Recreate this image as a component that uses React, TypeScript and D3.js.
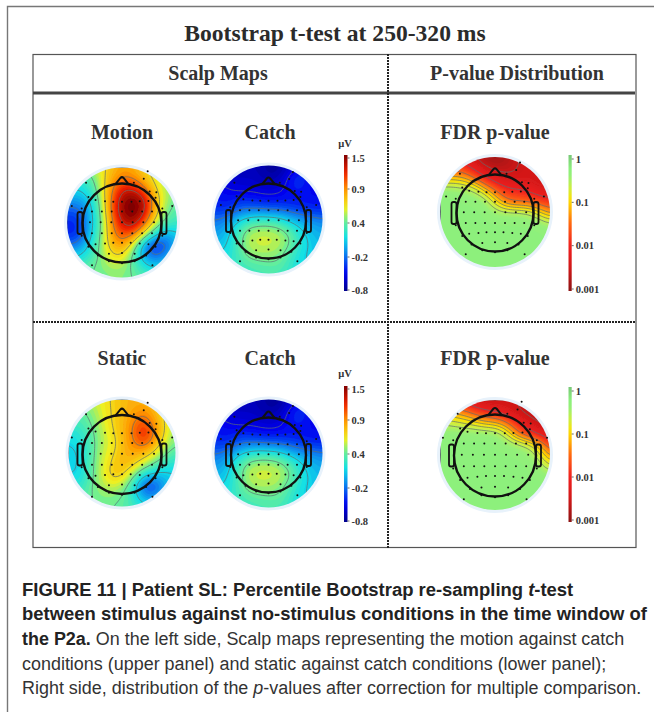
import React, { useMemo } from "react";
import * as d3 from "d3";

const W = 654;
const H = 712;

// electrode positions, as fractions of the head radius (nose up)
const electrodes: [number, number][] = [
  [0.65, -1.31], [0.55, -1.12], [0.3, -1.02], [-0.91, -1.02], [0.87, -0.78], [0.7, -0.8],
  [-0.85, -0.66], [-0.67, -0.58], [-0.43, -0.55], [-0.22, -0.54], [0, -0.54], [0.24, -0.54], [0.45, -0.55], [0.67, -0.56], [0.85, -0.64],
  [-0.76, -0.29], [-0.51, -0.29], [-0.26, -0.29], [0, -0.29], [0.26, -0.29], [0.51, -0.29], [0.76, -0.29],
  [-0.81, -0.02], [-0.54, -0.02], [-0.27, -0.02], [0, -0.02], [0.27, -0.02], [0.54, -0.02], [0.81, -0.02],
  [-0.76, 0.26], [-0.51, 0.26], [-0.26, 0.26], [0, 0.26], [0.26, 0.26], [0.51, 0.26], [0.76, 0.26],
  [-0.67, 0.54], [-0.43, 0.52], [-0.22, 0.5], [0, 0.5], [0.22, 0.5], [0.45, 0.52], [0.67, 0.54], [0.85, 0.6],
  [-0.85, 0.6], [-0.61, 0.82], [-0.33, 0.78], [0, 0.76], [0.32, 0.78], [0.61, 0.82],
  [-0.76, 1.07], [-0.33, 0.97], [0, 1.02], [0.32, 0.97], [0.77, 1.07],
  [-1.27, -0.43], [1.27, -0.43], [-1.02, -0.37], [1.02, -0.37], [-1.02, 0.32], [1.02, 0.32],
];

// scalp values in uV, sampled on an 11 x 11 grid over the disc
const motionValues = [
  [0.4, 0.4, 0.5, 0.62, 0.8, 0.9, 0.85, 0.72, 0.6, 0.5, 0.5],
  [0.2, 0.2, 0.3, 0.58, 0.9, 1.05, 1.0, 0.8, 0.62, 0.5, 0.45],
  [0.1, 0.1, 0.2, 0.55, 1.0, 1.35, 1.35, 1.1, 0.7, 0.5, 0.45],
  [-0.1, -0.1, 0.05, 0.45, 1.1, 1.5, 1.6, 1.4, 0.8, 0.5, 0.35],
  [-0.3, -0.3, 0, 0.4, 1.1, 1.5, 1.6, 1.35, 0.75, 0.4, 0.3],
  [-0.4, -0.4, 0, 0.35, 1.0, 1.35, 1.45, 1.05, 0.55, 0.3, 0.25],
  [-0.4, -0.4, 0.05, 0.4, 0.95, 1.15, 1.05, 0.6, 0.1, -0.1, 0.1],
  [-0.2, -0.15, 0.15, 0.45, 0.85, 0.95, 0.55, -0.2, -0.5, -0.25, 0.05],
  [0.1, 0.1, 0.25, 0.45, 0.68, 0.68, 0.3, -0.1, -0.25, -0.05, 0.1],
  [0.3, 0.3, 0.4, 0.45, 0.5, 0.5, 0.35, 0.2, 0.1, 0.15, 0.2],
  [0.4, 0.4, 0.4, 0.4, 0.45, 0.45, 0.4, 0.35, 0.3, 0.3, 0.3],
];

const catchValues = [
  [-0.7, -0.7, -0.7, -0.65, -0.65, -0.75, -0.75, -0.6, -0.5, -0.5, -0.5],
  [-0.55, -0.55, -0.6, -0.6, -0.65, -0.7, -0.65, -0.4, -0.3, -0.5, -0.5],
  [-0.45, -0.5, -0.55, -0.55, -0.55, -0.6, -0.55, -0.4, -0.4, -0.5, -0.5],
  [-0.4, -0.45, -0.4, -0.4, -0.45, -0.45, -0.45, -0.45, -0.45, -0.45, -0.45],
  [-0.35, -0.4, -0.25, -0.2, -0.2, -0.25, -0.25, -0.3, -0.35, -0.4, -0.4],
  [-0.2, -0.12, 0.08, 0.22, 0.28, 0.28, 0.22, 0.05, -0.05, -0.1, -0.15],
  [-0.1, 0, 0.25, 0.5, 0.55, 0.55, 0.5, 0.35, 0.12, 0, -0.05],
  [0, 0.05, 0.3, 0.55, 0.58, 0.58, 0.55, 0.42, 0.18, 0.05, 0],
  [0.1, 0.12, 0.28, 0.48, 0.52, 0.52, 0.46, 0.3, 0.12, 0.05, 0.05],
  [0.18, 0.18, 0.25, 0.32, 0.35, 0.38, 0.38, 0.22, 0.1, 0.08, 0.05],
  [0.25, 0.25, 0.25, 0.25, 0.28, 0.28, 0.28, 0.22, 0.12, 0.1, 0.1],
];

const staticValues = [
  [0.5, 0.5, 0.55, 0.62, 0.72, 0.82, 0.85, 0.85, 0.8, 0.7, 0.6],
  [0.35, 0.35, 0.45, 0.6, 0.72, 0.8, 0.9, 0.95, 0.82, 0.65, 0.55],
  [0.3, 0.3, 0.4, 0.56, 0.72, 0.82, 1.0, 1.15, 0.92, 0.65, 0.5],
  [0.15, 0.2, 0.35, 0.52, 0.68, 0.82, 1.05, 1.3, 1.0, 0.65, 0.45],
  [0.1, 0.15, 0.32, 0.52, 0.62, 0.8, 1.0, 1.15, 0.88, 0.55, 0.4],
  [0.05, 0.1, 0.32, 0.56, 0.66, 0.85, 0.88, 0.8, 0.62, 0.4, 0.3],
  [0.05, 0.1, 0.35, 0.56, 0.75, 0.85, 0.75, 0.55, 0.35, 0.2, 0.15],
  [0.1, 0.1, 0.35, 0.56, 0.8, 0.75, 0.45, 0.1, 0, 0.05, 0.1],
  [0.2, 0.2, 0.4, 0.52, 0.58, 0.5, 0.2, -0.35, -0.35, 0, 0.1],
  [0.3, 0.3, 0.4, 0.45, 0.45, 0.4, 0.2, -0.1, -0.1, 0.05, 0.1],
  [0.35, 0.35, 0.4, 0.4, 0.4, 0.35, 0.3, 0.2, 0.2, 0.2, 0.2],
];

// log10(p) on the same grid
const pMotion = [
  [-2, -2, -2.2, -2.5, -2.8, -2.9, -2.7, -2.5, -2.4, -2.3, -2.3],
  [-1.6, -1.6, -1.7, -2.1, -2.4, -2.6, -2.6, -2.5, -2.4, -2.4, -2.4],
  [-1, -1, -1, -1.3, -1.9, -2.2, -2.4, -2.4, -2.4, -2.5, -2.5],
  [-0.3, -0.3, -0.4, -0.5, -0.9, -1.5, -1.85, -1.9, -2, -2.3, -2.3],
  [-0.3, -0.3, -0.3, -0.3, -0.35, -0.9, -1.5, -1.6, -1.6, -1.7, -1.9],
  [-0.3, -0.3, -0.3, -0.3, -0.3, -0.4, -0.4, -0.4, -0.5, -0.9, -1.3],
  [-0.3, -0.3, -0.3, -0.3, -0.3, -0.3, -0.3, -0.3, -0.3, -0.3, -0.5],
  [-0.3, -0.3, -0.3, -0.3, -0.3, -0.3, -0.3, -0.3, -0.3, -0.3, -0.3],
  [-0.3, -0.3, -0.3, -0.3, -0.3, -0.3, -0.3, -0.3, -0.3, -0.3, -0.3],
  [-0.3, -0.3, -0.3, -0.3, -0.3, -0.3, -0.3, -0.3, -0.3, -0.3, -0.3],
  [-0.3, -0.3, -0.3, -0.3, -0.3, -0.3, -0.3, -0.3, -0.3, -0.3, -0.3],
];

const pStatic = [
  [-1.8, -2, -2.2, -2.5, -2.6, -2.6, -2.5, -2.5, -2.4, -2, -2],
  [-1.2, -1.2, -1.3, -1.6, -1.9, -2, -2.3, -2.6, -2.7, -2.6, -2.6],
  [-0.6, -0.7, -0.8, -0.9, -1.1, -1.1, -1.4, -1.9, -2.4, -2.6, -2.6],
  [-0.3, -0.3, -0.3, -0.3, -0.3, -0.35, -0.7, -1.5, -1.8, -2.2, -2.4],
  [-0.3, -0.3, -0.3, -0.3, -0.3, -0.3, -0.35, -0.4, -0.6, -1, -1.9],
  [-0.3, -0.3, -0.3, -0.3, -0.3, -0.3, -0.3, -0.3, -0.35, -0.7, -1.3],
  [-0.3, -0.3, -0.3, -0.3, -0.3, -0.3, -0.3, -0.3, -0.3, -0.4, -0.8],
  [-0.3, -0.3, -0.3, -0.3, -0.3, -0.3, -0.3, -0.3, -0.3, -0.3, -0.3],
  [-0.3, -0.3, -0.3, -0.3, -0.3, -0.3, -0.3, -0.3, -0.3, -0.3, -0.3],
  [-0.3, -0.3, -0.3, -0.3, -0.3, -0.3, -0.3, -0.3, -0.3, -0.3, -0.3],
  [-0.3, -0.3, -0.3, -0.3, -0.3, -0.3, -0.3, -0.3, -0.3, -0.3, -0.3],
];

const uvTicks = [1.5, 0.9, 0.4, -0.2, -0.8];
const pTicks = [1, 0.1, 0.01, 0.001];
const uvContourLevels = [-0.5, -0.2, 0.1, 0.4, 0.7, 1.0, 1.3];
const pContourLevels = [-0.6, -0.8, -1, -1.2, -1.5, -2, -2.5];

const captionBold = [
  ["FIGURE 11 | Patient SL: Percentile Bootstrap re-sampling ", "t", "-test"],
  ["between stimulus against no-stimulus conditions in the time window of"],
];

// jet-like scale, anchored on the colour bar
const uvColor = d3
  .scaleLinear<string>()
  .domain([-0.8, -0.5, -0.2, 0.1, 0.4, 0.6, 0.9, 1.2, 1.5])
  .range(["#00008c", "#0000f0", "#0a78f0", "#10e0e8", "#70f090", "#f0f020", "#ff9c00", "#f02000", "#800000"])
  .clamp(true);

const pColor = d3
  .scaleLinear<string>()
  .domain([-3, -2.5, -2, -1.5, -1, -0.7, -0.45, -0.3, 0])
  .range(["#8c1414", "#d01818", "#f02020", "#ff6a10", "#ffe000", "#c8f048", "#96f078", "#8cf07c", "#78c878"])
  .clamp(true);

// upsample the coarse grid so the filled bands come out smooth
function smoothField(rows: number[][], factor = 6) {
  const n = rows.length;
  const size = (n - 1) * factor + 1;
  const data = new Array(size * size);
  for (let j = 0; j < size; j++) {
    const gy = j / factor;
    const y0 = Math.min(Math.floor(gy), n - 2);
    for (let i = 0; i < size; i++) {
      const gx = i / factor;
      const x0 = Math.min(Math.floor(gx), n - 2);
      const top = d3.interpolateNumber(rows[y0][x0], rows[y0][x0 + 1])(gx - x0);
      const bottom = d3.interpolateNumber(rows[y0 + 1][x0], rows[y0 + 1][x0 + 1])(gx - x0);
      data[j * size + i] = d3.interpolateNumber(top, bottom)(gy - y0);
    }
  }
  d3.blur2({ data, width: size, height: size }, factor * 0.4);
  return { data, size };
}

type ScalpProps = {
  id: string;
  cx: number;
  cy: number;
  r: number;
  headY: number;
  headR: number;
  rows: number[][];
  color: (v: number) => string;
  domain: [number, number];
  levels: number[];
};

function Scalp({ id, cx, cy, r, headY, headR, rows, color, domain, levels }: ScalpProps) {
  const { fills, lines } = useMemo(() => {
    const { data, size } = smoothField(rows);
    const thresholds = d3.range(domain[0] - 1, domain[1] + 0.02, (domain[1] - domain[0]) / 48);
    const gen = d3.contours().size([size, size]);
    const scaleX = d3.scaleLinear().domain([0, size - 1]).range([cx - r, cx + r]);
    const scaleY = d3.scaleLinear().domain([0, size - 1]).range([cy - r, cy + r]);
    const path = d3.geoPath(
      d3.geoTransform({
        point(x, y) {
          this.stream.point(scaleX(x), scaleY(y));
        },
      })
    );
    const fills = thresholds.map((t) => ({ t, d: path(gen.contour(data, t)) || "" }));
    const lines = levels.map((t) => ({ t, d: path(gen.contour(data, t)) || "" }));
    return { fills, lines };
  }, [rows, cx, cy, r]);

  const hx = d3.scaleLinear().domain([-1, 1]).range([cx - headR, cx + headR]);
  const hy = d3.scaleLinear().domain([-1, 1]).range([headY - headR, headY + headR]);
  const earW = 5;
  const earH = 22;

  return (
    <g>
      <circle cx={cx} cy={cy} r={r + 3} fill="#e8f2fb" />
      <clipPath id={id}>
        <circle cx={cx} cy={cy} r={r} />
      </clipPath>
      <g clipPath={`url(#${id})`} filter="url(#soft)">
        {fills.map((f) => (
          <path key={f.t} d={f.d} fill={color(f.t)} />
        ))}
        {lines.map((l) => (
          <path key={l.t} d={l.d} fill="none" stroke="#5e6e6e" strokeWidth={0.7} />
        ))}
      </g>
      <circle cx={cx} cy={headY} r={headR} fill="none" stroke="#111" strokeWidth={2.4} />
      <path
        d={`M${hx(-0.17)},${hy(-0.98)} L${hx(-0.04)},${hy(-1.14)} Q${cx},${hy(-1.18)} ${hx(0.04)},${hy(-1.14)} L${hx(0.17)},${hy(-0.98)}`}
        fill="none"
        stroke="#111"
        strokeWidth={2}
      />
      <rect x={hx(-1) - earW} y={headY - earH / 2} width={earW} height={earH} rx={2} fill="none" stroke="#111" strokeWidth={1.8} />
      <rect x={hx(1)} y={headY - earH / 2} width={earW} height={earH} rx={2} fill="none" stroke="#111" strokeWidth={1.8} />
      {electrodes.map(([x, y], i) => (
        <circle key={i} cx={hx(x)} cy={hy(y)} r={1} fill="#111" />
      ))}
    </g>
  );
}

type BarProps = {
  id: string;
  x: number;
  y0: number;
  y1: number;
  width: number;
  color: (v: number) => string;
  domain: [number, number];
  scale: d3.ScaleContinuousNumeric<number, number>;
  ticks: number[];
  labels: string[];
};

function ColorBar({ id, x, y0, y1, width, color, domain, scale, ticks, labels }: BarProps) {
  const stops = d3.range(0, 1.001, 0.05);
  return (
    <g>
      <linearGradient id={id} x1="0" y1="1" x2="0" y2="0">
        {stops.map((s) => (
          <stop key={s} offset={s} stopColor={color(domain[0] + s * (domain[1] - domain[0]))} />
        ))}
      </linearGradient>
      <rect x={x} y={y0} width={width} height={y1 - y0} fill={`url(#${id})`} />
      {ticks.map((t, i) => (
        <g key={t}>
          <line x1={x + width} x2={x + width + 2} y1={scale(t)} y2={scale(t)} stroke="#444" strokeWidth={0.8} />
          <text x={x + width + 4} y={scale(t) + 3.5} fontSize={10.5} fontWeight="bold" fill="#333" fontFamily="Liberation Serif">
            {labels[i]}
          </text>
        </g>
      ))}
    </g>
  );
}

const serif = "Liberation Serif";
const mapLabel = { fontFamily: serif, fontWeight: "bold", fontSize: 20, fill: "#333", textAnchor: "middle" } as const;
const uvBar = (y0: number, y1: number) =>
  d3.scaleLinear().domain([1.5, 0.9, 0.4, -0.2, -0.8]).range([y0 + 3, d3.interpolateNumber(y0, y1)(0.25), d3.interpolateNumber(y0, y1)(0.5), d3.interpolateNumber(y0, y1)(0.75), y1 - 1]);
const pBar = (y0: number, y1: number) => d3.scaleLog().domain([1, 0.001]).range([y0 + 4, y1 - 2]);

export default function App() {
  const captionX = 22;
  return (
    <svg
      width={W}
      height={H}
      viewBox={`0 0 ${W} ${H}`}
      style={{ position: "absolute", left: 0, top: 0, background: "#fff" }}
    >
      <defs>
        <filter id="soft" x="-5%" y="-5%" width="110%" height="110%">
          <feGaussianBlur stdDeviation="0.5" />
        </filter>
      </defs>

      {/* outer frame runs off the bottom and right of the crop */}
      <path d={`M${W},6.5 H7.5 V${H}`} fill="none" stroke="#777" strokeWidth={1.4} />

      <text x={335} y={41} textAnchor="middle" fontFamily={serif} fontWeight="bold" fontSize={23.6} fill="#2b2b2b">
        Bootstrap t-test at 250-320 ms
      </text>

      <rect x={33} y={54.5} width={603} height={493} fill="none" stroke="#555" strokeWidth={1.2} />
      <line x1={33} x2={635} y1={93} y2={93} stroke="#444" strokeWidth={2.8} />
      <line x1={388} x2={388} y1={54} y2={548} stroke="#222" strokeWidth={2} strokeDasharray="2 1" />
      <line x1={33} x2={636} y1={322} y2={322} stroke="#222" strokeWidth={2} strokeDasharray="2 1" />

      <text x={218} y={80} {...mapLabel}>Scalp Maps</text>
      <text x={517} y={80} {...mapLabel}>P-value Distribution</text>

      <text x={122} y={139} {...mapLabel}>Motion</text>
      <text x={270} y={139} {...mapLabel}>Catch</text>
      <text x={495} y={139} {...mapLabel}>FDR p-value</text>
      <text x={122} y={365} {...mapLabel}>Static</text>
      <text x={270} y={365} {...mapLabel}>Catch</text>
      <text x={495} y={365} {...mapLabel}>FDR p-value</text>

      <Scalp id="m1" cx={122} cy={222.5} r={55} headY={223} headR={39.5} rows={motionValues} color={uvColor} domain={[-0.8, 1.5]} levels={uvContourLevels} />
      <Scalp id="c1" cx={268.5} cy={219.5} r={54} headY={221} headR={37.5} rows={catchValues} color={uvColor} domain={[-0.8, 1.5]} levels={uvContourLevels} />
      <Scalp id="p1" cx={495} cy={212} r={55} headY={213} headR={38.5} rows={pMotion} color={pColor} domain={[-3, 0]} levels={pContourLevels} />
      <Scalp id="s2" cx={122} cy={453} r={53.5} headY={454.5} headR={39.5} rows={staticValues} color={uvColor} domain={[-0.8, 1.5]} levels={uvContourLevels} />
      <Scalp id="c2" cx={268.5} cy={453.5} r={54} headY={455} headR={37.5} rows={catchValues} color={uvColor} domain={[-0.8, 1.5]} levels={uvContourLevels} />
      <Scalp id="p2" cx={495} cy={455} r={55} headY={455.5} headR={41} rows={pStatic} color={pColor} domain={[-3, 0]} levels={pContourLevels} />

      <text x={345} y={147} textAnchor="middle" fontFamily={serif} fontWeight="bold" fontSize={10.5} fill="#333">µV</text>
      <text x={345} y={377} textAnchor="middle" fontFamily={serif} fontWeight="bold" fontSize={10.5} fill="#333">µV</text>
      <ColorBar id="bar1" x={344} y0={155} y1={291} width={3.5} color={uvColor} domain={[-0.8, 1.5]} scale={uvBar(155, 291)} ticks={uvTicks} labels={uvTicks.map(String)} />
      <ColorBar id="bar2" x={344} y0={386} y1={522} width={3.5} color={uvColor} domain={[-0.8, 1.5]} scale={uvBar(386, 522)} ticks={uvTicks} labels={uvTicks.map(String)} />
      <ColorBar id="bar3" x={568.5} y0={155} y1={291} width={3.2} color={(v) => pColor(v)} domain={[-3, 0]} scale={pBar(155, 291)} ticks={pTicks} labels={pTicks.map(String)} />
      <ColorBar id="bar4" x={568.5} y0={387} y1={522} width={3.2} color={(v) => pColor(v)} domain={[-3, 0]} scale={pBar(387, 522)} ticks={pTicks} labels={pTicks.map(String)} />

      <g fontFamily="Liberation Sans" fontSize={17.95} fill="#333">
        <text x={captionX} y={596} fontWeight="bold" fill="#222" fontSize={18.45}>
          {captionBold[0][0]}
          <tspan fontStyle="italic">{captionBold[0][1]}</tspan>
          {captionBold[0][2]}
        </text>
        <text x={captionX} y={620} fontWeight="bold" fill="#222" fontSize={18.45}>{captionBold[1][0]}</text>
        <text x={captionX} y={645}>
          <tspan fontWeight="bold" fill="#222">the P2a.</tspan> On the left side, Scalp maps representing the motion against catch
        </text>
        <text x={captionX} y={670}>conditions (upper panel) and static against catch conditions (lower panel);</text>
        <text x={captionX} y={694}>
          Right side, distribution of the <tspan fontStyle="italic">p</tspan>-values after correction for multiple comparison.
        </text>
      </g>
    </svg>
  );
}
